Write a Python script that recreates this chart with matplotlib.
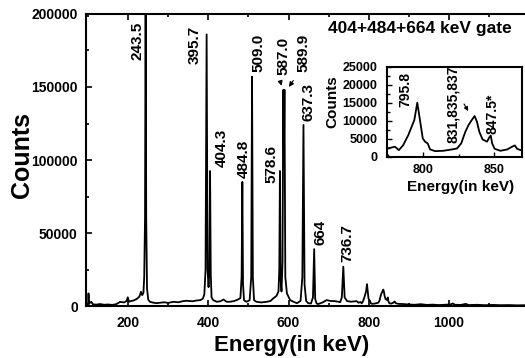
import matplotlib
matplotlib.use("Agg")
import matplotlib.pyplot as plt
from matplotlib.ticker import MultipleLocator

plt.rcParams['font.family'] = ['Liberation Sans', 'DejaVu Sans']
plt.rcParams['font.weight'] = 'bold'

# Spectrum (energy in keV, counts)
energy = [95, 98, 100, 101, 102.5, 105, 108, 112, 120, 130, 140, 150, 160, 170, 180, 190, 196, 199, 202,
          208, 215, 222, 228, 232, 235, 238, 240, 242, 243.5, 245, 247, 250, 254, 260, 270, 280, 290, 300,
          313, 325, 335, 346, 360, 370, 380, 386, 390, 393, 395.7, 398, 400.5, 402.5, 404.3, 406, 408, 412,
          421, 430, 438, 445, 454, 465, 474, 480, 483, 484.8, 486.5, 489, 495, 503, 507, 509, 511, 514, 520,
          532, 546, 555, 562, 570, 575, 577, 578.6, 580, 582.5, 585, 587, 588.5, 589.9, 592, 596, 604, 612,
          621, 630, 634.5, 637.3, 640, 644, 649, 656, 661, 664, 666.5, 670, 674, 685, 695, 705, 716, 729,
          733, 736.7, 740, 746, 756, 770,
          774.5, 779.8, 782.6, 785.7, 789.3, 791.7, 793.6, 795.7, 796.9, 798.4, 799.6, 801.2, 803.1, 804.8,
          808.4, 814.3, 820.3, 823.9, 826.9, 829.8, 832.1, 834.1, 836.4, 838.1, 839.8, 842.1, 845.3, 846.9,
          847.9, 848.9, 850.7, 854.8, 859.6, 863.1, 865, 866.7, 869.1,
          875, 886, 900, 915, 930, 945, 960, 975, 990, 1005, 1010, 1015, 1030, 1042, 1050, 1070, 1090, 1110,
          1130, 1150, 1170, 1190]
counts = [1500, 1200, 2000, 8700, 1500, 2500, 2900, 1200, 1000, 1400, 900, 1100, 800, 1300, 2900, 2500, 3500, 6000, 3000,
          3500, 4000, 5000, 6500, 9800, 7500, 9000, 20000, 60000, 215000, 60000, 12000, 4500, 3000, 2500, 2000, 2300, 2600, 2200,
          2950, 2600, 3300, 3650, 3300, 3800, 4100, 5000, 8000, 25000, 186000, 25000, 13000, 25000, 92500, 22000, 6000, 4100,
          2950, 3300, 4500, 3000, 2950, 3500, 4500, 5500, 20000, 85000, 15000, 4000, 2950, 4000, 20000, 157000, 20000, 4000, 2950,
          2500, 2950, 3500, 5300, 7000, 10000, 25000, 92500, 20000, 10000, 30000, 148000, 100000, 148000, 20000, 8700, 4100, 3000,
          2000, 3500, 20000, 124000, 15000, 3500, 2000, 1800, 6000, 39000, 5000, 1800, 1400, 2500, 4100, 3500, 3400, 2700,
          6000, 27000, 6000, 3400, 3000, 3400,
          2300, 2800, 1850, 3240, 6000, 8300, 10200, 15000, 12000, 8300, 5100, 4200, 3700, 2040,
          1570, 1670, 2040, 2300, 3700, 6900, 8800, 10000, 11300, 9700, 6900, 4800, 4200, 5400,
          5900, 3700, 2200, 1670, 2040, 2800, 3150, 2200, 1850,
          1500, 1400, 1100, 900, 1300, 800, 1000, 700, 900, 1200, 1800, 900, 800, 1500, 700, 900, 600, 800,
          600, 700, 500, 600]

# Peak labels: text, x centre, y bottom
peak_labels = ['243.5', '395.7', '404.3', '484.8', '509.0', '578.6', '587.0', '589.9', '637.3', '664', '736.7']
label_x = [222, 367, 434, 488, 524, 558, 587, 637, 649, 679, 747]
label_y = [168500, 166000, 95000, 88000, 160000, 84000, 158000, 160000, 127000, 41800, 30000]

inset_labels = ['795.8', '831,835,837', '847.5*']
inset_label_x = [787.4, 821.4, 849.3]
inset_label_y = [13900, 3700, 6300]

xticks_main = [200, 400, 600, 800, 1000]
yticks_main = [0, 50000, 100000, 150000, 200000]
xticks_inset = [800, 850]
yticks_inset = [0, 5000, 10000, 15000, 20000, 25000]

fig = plt.figure(figsize=(5.25, 3.58), dpi=100)
ax = fig.add_axes([0.164, 0.145, 0.836, 0.816])
ax.plot(energy, counts, color='black', lw=1.3)
ax.set_xlim(95, 1190)
ax.set_ylim(0, 200000)
ax.set_xticks(xticks_main)
ax.set_yticks(yticks_main)
ax.xaxis.set_minor_locator(MultipleLocator(100))
ax.yaxis.set_minor_locator(MultipleLocator(25000))
ax.tick_params(which='both', direction='in', top=True, right=False, labelsize=10, width=1.2)
ax.tick_params(which='major', length=4)
ax.tick_params(which='minor', length=2.5)
ax.tick_params(axis='y', pad=6)
ax.tick_params(axis='x', pad=7)
for s in ['left', 'bottom', 'top']:
    ax.spines[s].set_linewidth(1.5)
ax.spines['right'].set_visible(False)
for lab in ax.get_xticklabels() + ax.get_yticklabels():
    lab.set_fontweight('bold')

ax.set_xlabel('Energy(in keV)', fontsize=16, fontweight='bold')
ax.xaxis.set_label_coords(0.468, -0.10)
ax.set_ylabel('Counts', fontsize=18, fontweight='bold')
ax.yaxis.set_label_coords(-0.118, 0.517)

for t, x, y in zip(peak_labels, label_x, label_y):
    ax.text(x, y, t, rotation=90, ha='center', va='bottom', fontsize=11, fontweight='bold')

ax.annotate('', xy=(585, 149000), xytext=(577, 156000),
            arrowprops=dict(arrowstyle='-|>', color='black', lw=0.8, mutation_scale=7))
ax.annotate('', xy=(597, 148500), xytext=(616, 156000),
            arrowprops=dict(arrowstyle='-|>', color='black', lw=0.8, mutation_scale=7))

fig.text(0.80, 0.919, '404+484+664 keV gate', ha='center', va='center', fontsize=12.5, fontweight='bold')

# Inset
axi = fig.add_axes([0.738, 0.562, 0.256, 0.252])
axi.plot(energy, counts, color='black', lw=1.3)
axi.set_xlim(774.5, 870)
axi.set_ylim(0, 25000)
axi.set_xticks(xticks_inset)
axi.set_yticks(yticks_inset)
axi.xaxis.set_minor_locator(MultipleLocator(25))
axi.yaxis.set_minor_locator(MultipleLocator(2500))
axi.tick_params(which='both', direction='in', labelsize=9, width=1.0)
axi.tick_params(which='major', length=3.5)
axi.tick_params(which='minor', length=2)
axi.tick_params(axis='y', pad=7)
axi.tick_params(axis='x', pad=5)
for s in axi.spines.values():
    s.set_linewidth(1.5)
for lab in axi.get_xticklabels() + axi.get_yticklabels():
    lab.set_fontweight('bold')
axi.set_xlabel('Energy(in keV)', fontsize=11, fontweight='bold')
axi.xaxis.set_label_coords(0.546, -0.255)
axi.set_ylabel('Counts', fontsize=11, fontweight='bold')
axi.yaxis.set_label_coords(-0.36, 0.61)

for t, x, y in zip(inset_labels, inset_label_x, inset_label_y):
    axi.text(x, y, t, rotation=90, ha='center', va='bottom', fontsize=10, fontweight='bold')
axi.annotate('', xy=(832.9, 12000), xytext=(827.9, 15300),
             arrowprops=dict(arrowstyle='-|>', color='black', lw=0.8, mutation_scale=6))

fig.savefig('out.png', dpi=100)
